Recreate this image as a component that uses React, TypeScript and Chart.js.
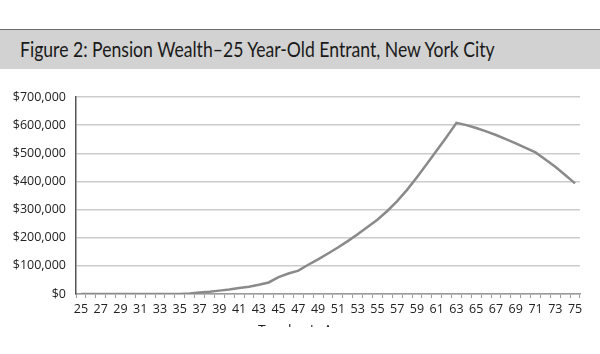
import React, { useEffect, useRef } from "react";
import { Chart, registerables } from "chart.js";

Chart.register(...registerables);

const TITLE = "Figure 2: Pension Wealth\u201325 Year-Old Entrant, New York City";
const X_TITLE = "Teacher's Age";
const AGES = Array.from({ length: 51 }, (_, i) => String(25 + i));
const WEALTH = [
  0, 0, 0, 0, 0, 0, 0, 0, 0, 0, // 25-34
  0, 2000, 5000, 8000, 12000, 16000, 21000, 26000, 33000, 41000, // 35-44
  60000, 73000, 83000, 104000, 123000, 144000, 165000, 188000, 212000, 238000, // 45-54
  264000, 295000, 330000, 370000, 415000, 462000, 510000, 558000, 608000, 600000, // 55-64
  590000, 578000, 565000, 550000, 535000, 519000, 503000, 478000, 452000, 423000, // 65-74
  393000, // 75
];
const Y_TICKS = [0, 100000, 200000, 300000, 400000, 500000, 600000, 700000];

export default function App() {
  const ref = useRef<HTMLCanvasElement>(null);
  useEffect(() => {
    if (!ref.current) return;
    const xTitlePlugin = {
      id: "xTitle",
      afterDraw(chart: any) {
        const ctx = chart.ctx;
        ctx.save();
        ctx.font = "14px 'Open Sans'";
        ctx.fillStyle = "#222";
        ctx.textAlign = "left";
        ctx.textBaseline = "top";
        ctx.fillText(X_TITLE, 258, 324);
        ctx.restore();
      },
    };
    const chart = new Chart(ref.current, {
      type: "line",
      data: {
        labels: AGES,
        datasets: [
          {
            data: WEALTH,
            borderColor: "#8a8a8a",
            borderWidth: 2.5,
            pointRadius: 0,
            tension: 0,
            fill: false,
          },
        ],
      },
      plugins: [xTitlePlugin],
      options: {
        animation: false,
        responsive: true,
        maintainAspectRatio: false,
        layout: { padding: { left: 0, right: 20, top: 97, bottom: 0 } },
        plugins: { legend: { display: false }, tooltip: { enabled: false }, title: { display: false } },
        scales: {
          x: {
            offset: true,
            grid: {
              offset: true,
              drawOnChartArea: false,
              drawTicks: true,
              tickLength: 4,
              color: "#9a9a9a",
            },
            border: { color: "#9a9a9a", width: 1.5 },
            ticks: {
              autoSkip: false,
              maxRotation: 0,
              minRotation: 0,
              padding: 4,
              color: "#222",
              font: { family: "'Open Sans'", size: 12.5 },
              callback: (_v: any, i: number) => (i % 2 === 0 ? AGES[i] : ""),
            },
            afterFit: (s: any) => {
              s.height = 33;
            },
          },
          y: {
            min: 0,
            max: 700000,
            afterBuildTicks: (s: any) => {
              s.ticks = Y_TICKS.map((v) => ({ value: v }));
            },
            grid: { color: "#cccccc", lineWidth: 1.5, drawTicks: false },
            border: { color: "#555", width: 1.5 },
            ticks: {
              padding: 10,
              color: "#222",
              font: { family: "'Open Sans'", size: 12.5 },
              callback: (v: any) => "$" + Number(v).toLocaleString("en-US"),
            },
            afterFit: (s: any) => {
              s.width = 76;
            },
          },
        },
      },
    });
    return () => chart.destroy();
  }, []);

  return (
    <div style={{ position: "absolute", left: 0, top: 0, width: 600, height: 354, background: "#fff", overflow: "hidden" }}>
      <div
        style={{
          position: "absolute",
          left: 0,
          top: 29,
          width: 600,
          height: 39,
          background: "#d2d2d2",
          borderTop: "1.5px solid #6a6a6a",
        }}
      >
        <span
          style={{
            position: "absolute",
            left: 20,
            top: 5,
            fontFamily: "Lato, sans-serif",
            fontSize: 22,
            color: "#1a1a1a",
            whiteSpace: "nowrap",
            transformOrigin: "left top",
            transform: "scaleX(0.80)",
            display: "inline-block",
          }}
        >
          {TITLE}
        </span>
      </div>
      <div style={{ position: "absolute", left: 0, top: 0, width: 600, height: 327 }}>
        <canvas ref={ref} />
      </div>
    </div>
  );
}
